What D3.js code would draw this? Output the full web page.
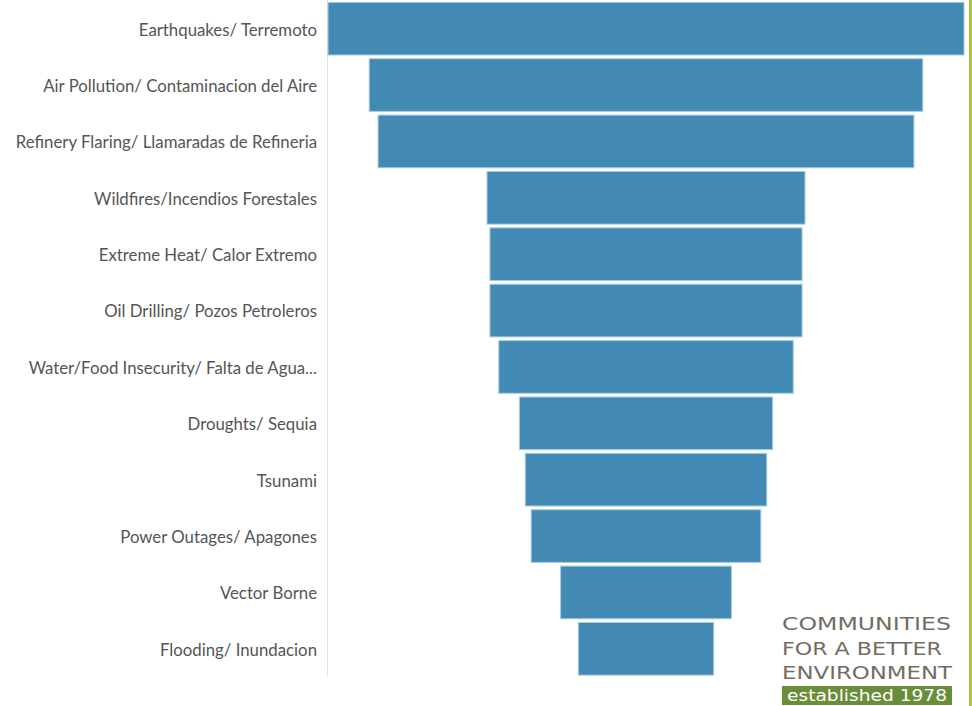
<!DOCTYPE html>
<html>
<head>
<meta charset="utf-8">
<script src="https://cdn.jsdelivr.net/npm/d3@7"></script>
<style>
  html, body { margin: 0; padding: 0; background: #fff; }
  svg { display: block; }
</style>
</head>
<body>
<svg id="chart" width="972" height="706"></svg>
<script>
// Hazards named by respondents, widest at top (funnel layout)
const categories = [
  "Earthquakes/ Terremoto",
  "Air Pollution/ Contaminacion del Aire",
  "Refinery Flaring/ Llamaradas de Refineria",
  "Wildfires/Incendios Forestales",
  "Extreme Heat/ Calor Extremo",
  "Oil Drilling/ Pozos Petroleros",
  "Water/Food Insecurity/ Falta de Agua...",
  "Droughts/ Sequia",
  "Tsunami",
  "Power Outages/ Apagones",
  "Vector Borne",
  "Flooding/ Inundacion"
];
const responses = [108, 94, 91, 54, 53, 53, 50, 43, 41, 39, 29, 23];

const logoLines = ["COMMUNITIES", "FOR A BETTER", "ENVIRONMENT"];
const logoTag = "established 1978";

const svg = d3.select("#chart");
const W = 972, H = 706;

const axisX = 327;
const centerX = 646;

const y = d3.scaleBand()
  .domain(categories)
  .range([0.5, 677])
  .paddingInner(0.066)
  .paddingOuter(0.033);

const w = d3.scaleLinear()
  .domain([0, d3.max(responses)])
  .range([0, 636]);

const data = categories.map((c, i) => ({ c, v: responses[i] }));

// axis rule separating labels from bars
svg.append("line")
  .attr("x1", axisX + 0.5).attr("x2", axisX + 0.5)
  .attr("y1", 0).attr("y2", 676)
  .attr("stroke", "#e3e3e3").attr("stroke-width", 1);

// centred bars
svg.append("g").selectAll("rect")
  .data(data)
  .join("rect")
  .attr("x", d => centerX - w(d.v) / 2)
  .attr("y", d => y(d.c))
  .attr("width", d => w(d.v))
  .attr("height", y.bandwidth())
  .attr("fill", "#428ab4")
  .attr("stroke", "#a9cbe0")
  .attr("stroke-width", 1);

// category labels
const yAxis = d3.axisLeft(y).tickSize(0).tickPadding(10);
const ga = svg.append("g")
  .attr("transform", `translate(${axisX},1.5)`)
  .call(yAxis);
ga.select(".domain").remove();
ga.selectAll("text")
  .attr("font-family", "Lato, sans-serif")
  .attr("font-size", 16.8)
  .attr("fill", "#555");

// right edge accent
svg.append("rect")
  .attr("x", 969).attr("y", 0)
  .attr("width", 3).attr("height", H)
  .attr("fill", "#a8c23e");

// organisation mark
const logo = svg.append("g");
const baselines = [630, 655, 679];
const widths = [169, 160, 170];
logoLines.forEach((t, i) => {
  logo.append("text")
    .attr("x", 782).attr("y", baselines[i])
    .attr("font-family", "'DejaVu Sans', sans-serif")
    .attr("font-weight", 400)
    .attr("font-size", 17.5)
    .attr("fill", "#746c63")
    .attr("textLength", widths[i])
    .attr("lengthAdjust", "spacingAndGlyphs")
    .text(t);
});
logo.append("rect")
  .attr("x", 782).attr("y", 686)
  .attr("width", 170).attr("height", 19)
  .attr("fill", "#6a8d3a");
logo.append("text")
  .attr("x", 787).attr("y", 701)
  .attr("font-family", "'DejaVu Sans', sans-serif")
  .attr("font-weight", 400)
  .attr("font-size", 15.5)
  .attr("fill", "#fff")
  .attr("textLength", 160)
  .attr("lengthAdjust", "spacingAndGlyphs")
  .text(logoTag);
</script>
</body>
</html>
